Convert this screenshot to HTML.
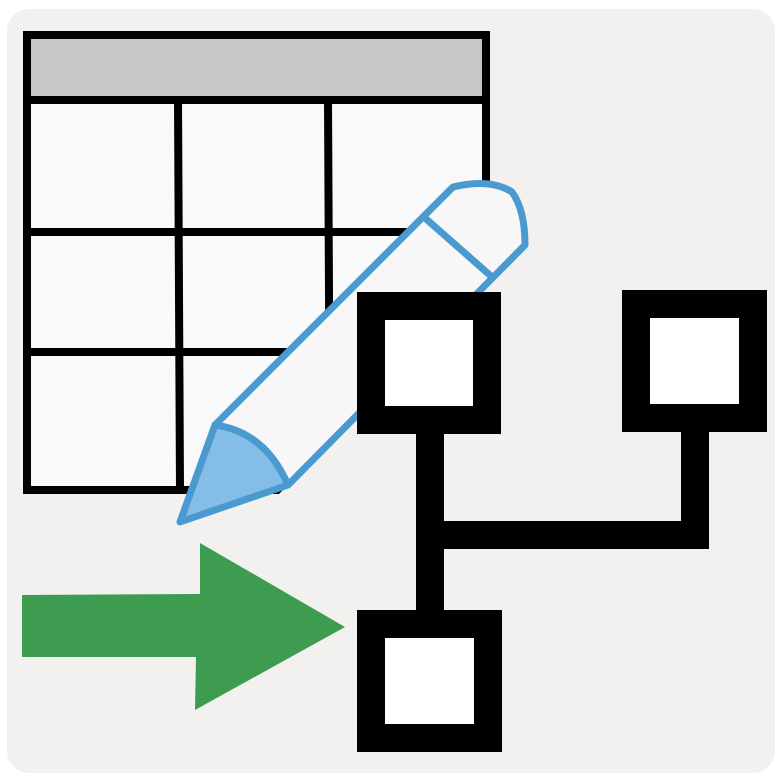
<!DOCTYPE html>
<html><head><meta charset="utf-8"><style>html,body{margin:0;padding:0;background:#fff}svg{display:block}</style></head>
<body>
<svg width="781" height="781" viewBox="0 0 781 781" xmlns="http://www.w3.org/2000/svg">
<defs><clipPath id="c"><polygon points="0,0 773,0 0,773"/></clipPath></defs>
<rect x="7" y="9" width="768" height="764" rx="22" fill="#f2f1f0"/>
<!-- table -->
<g clip-path="url(#c)">
<rect x="27" y="35" width="459" height="455" fill="#f9f9f9"/>
<rect x="27" y="35" width="459" height="65" fill="#c8c7c5"/>
<g stroke="#000" stroke-width="8" fill="none">
<rect x="27" y="35" width="459" height="455"/>
<line x1="27" y1="100" x2="486" y2="100"/>
<line x1="27" y1="232" x2="486" y2="232"/>
<line x1="27" y1="352" x2="486" y2="352"/>
<line x1="178" y1="100" x2="180" y2="490"/>
<line x1="328" y1="100" x2="330" y2="490"/>
</g>
</g>
<!-- pencil -->
<path d="M215,425 L453,187 Q490,178 512,192 Q525,210 525,245 L288,485 Z" fill="#f7f7f7" stroke="#4a9acf" stroke-width="7" stroke-linejoin="round"/>
<path d="M215,425 Q265,432 288,485 L180,522 Z" fill="#85bde9" stroke="#4a9acf" stroke-width="7" stroke-linejoin="round"/>
<line x1="425" y1="218" x2="492" y2="277" stroke="#4a9acf" stroke-width="7"/>
<!-- tree -->
<g stroke="#000" stroke-width="28" fill="#fff">
<line x1="430" y1="430" x2="430" y2="615" fill="none"/>
<polyline points="430,535 695,535 695,430" fill="none"/>
<rect x="371" y="306" width="116" height="114"/>
<rect x="636" y="304" width="117" height="114"/>
<rect x="371" y="624" width="117" height="114"/>
</g>
<!-- arrow -->
<path d="M22,595 L200,594 L200,543 L345,627 L195,710 L196,657 L22,657 Z" fill="#3e9c51"/>
</svg>
</body></html>
